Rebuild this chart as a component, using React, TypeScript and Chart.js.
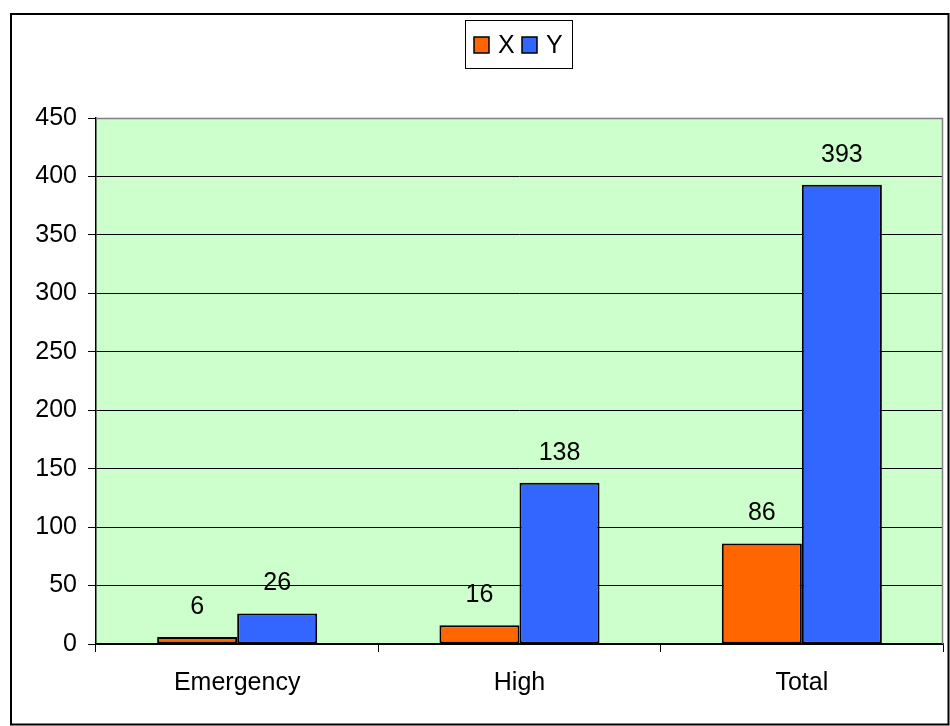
import React, { useEffect, useRef } from "react";
import { Chart, registerables } from "chart.js";

Chart.register(...registerables);

const categories = ["Emergency", "High", "Total"];
const seriesX = [6, 16, 86];
const seriesY = [26, 138, 393];
const seriesNames = ["X", "Y"];
const seriesColors = ["#FF6600", "#3366FF"];
const yTicksMin = 0;
const yTicksMax = 450;
const yStep = 50;

const FONT = "'Liberation Sans', Arial, sans-serif";

const decorPlugin = {
  id: "decor",
  beforeDraw(chart: any) {
    const { ctx, chartArea } = chart;
    ctx.save();
    ctx.fillStyle = "#ffffff";
    ctx.fillRect(0, 0, chart.width, chart.height);
    ctx.fillStyle = "#CCFFCC";
    ctx.fillRect(chartArea.left, chartArea.top, chartArea.right - chartArea.left, chartArea.bottom - chartArea.top);
    ctx.restore();
  },
  afterDraw(chart: any) {
    const { ctx, chartArea } = chart;
    ctx.save();
    // gray plot border top/right
    ctx.strokeStyle = "#808080";
    ctx.lineWidth = 1.5;
    ctx.beginPath();
    ctx.moveTo(chartArea.left, chartArea.top + 0.5);
    ctx.lineTo(chartArea.right - 0.5, chartArea.top + 0.5);
    ctx.lineTo(chartArea.right - 0.5, chartArea.bottom);
    ctx.stroke();
    // outer border
    ctx.strokeStyle = "#000000";
    ctx.lineWidth = 2;
    ctx.strokeRect(11, 14, 937.5, 710.5);
    // legend
    ctx.lineWidth = 1;
    ctx.strokeStyle = "#000000";
    ctx.strokeRect(465.5, 20.5, 107, 48);
    ctx.font = `25px ${FONT}`;
    ctx.textBaseline = "middle";
    ctx.textAlign = "left";
    const ds = chart.data.datasets;
    const pos = [474, 522];
    ds.forEach((d: any, i: number) => {
      const x = pos[i];
      ctx.fillStyle = d.backgroundColor;
      ctx.fillRect(x, 37, 15, 16);
      ctx.lineWidth = 1.5;
      ctx.strokeStyle = "#000";
      ctx.strokeRect(x, 37, 15, 16);
      ctx.fillStyle = "#000";
      ctx.fillText(d.label, x + 24, 46);
    });
    ctx.restore();
  },
  afterDatasetsDraw(chart: any) {
    const { ctx } = chart;
    ctx.save();
    ctx.font = `25px ${FONT}`;
    ctx.fillStyle = "#000";
    ctx.textAlign = "center";
    ctx.textBaseline = "middle";
    chart.data.datasets.forEach((d: any, i: number) => {
      const meta = chart.getDatasetMeta(i);
      meta.data.forEach((bar: any, j: number) => {
        ctx.fillText(String(d.data[j]), bar.x, bar.y - 30);
      });
    });
    ctx.restore();
  },
};

export default function App() {
  const ref = useRef<HTMLCanvasElement>(null);
  useEffect(() => {
    const canvas = ref.current!;
    const chart = new Chart(canvas, {
      type: "bar",
      data: {
        labels: categories,
        datasets: [
          {
            label: seriesNames[0],
            data: seriesX,
            backgroundColor: seriesColors[0],
            borderColor: "#000",
            borderWidth: 2,
            borderSkipped: false,
          },
          {
            label: seriesNames[1],
            data: seriesY,
            backgroundColor: seriesColors[1],
            borderColor: "#000",
            borderWidth: 2,
            borderSkipped: false,
          },
        ],
      },
      options: {
        responsive: false,
        animation: false,
        devicePixelRatio: 1,
        layout: { padding: { top: 118, right: 7, left: 0, bottom: 0 } },
        datasets: { bar: { barPercentage: 1, categoryPercentage: 0.567 } },
        plugins: { legend: { display: false }, tooltip: { enabled: false } },
        scales: {
          x: {
            grid: { drawOnChartArea: false, offset: true, color: "#000", tickLength: 8, lineWidth: 1 },
            border: { color: "#000", width: 1.5 },
            ticks: { color: "#000", font: { family: FONT, size: 25 }, padding: 16 },
            afterFit: (s: any) => { s.height = 82; },
          },
          y: {
            min: yTicksMin,
            max: yTicksMax,
            ticks: { stepSize: yStep, color: "#000", font: { family: FONT, size: 25 }, padding: 11 },
            grid: { color: "#000", lineWidth: 1, tickLength: 8 },
            border: { color: "#000", width: 1.5 },
            afterFit: (s: any) => { s.width = 96; },
          },
        },
      },
      plugins: [decorPlugin],
    });
    return () => chart.destroy();
  }, []);
  return (
    <div style={{ position: "fixed", left: 0, top: 0, width: 950, height: 726, background: "#fff" }}>
      <canvas ref={ref} width={950} height={726} style={{ display: "block" }} />
    </div>
  );
}
